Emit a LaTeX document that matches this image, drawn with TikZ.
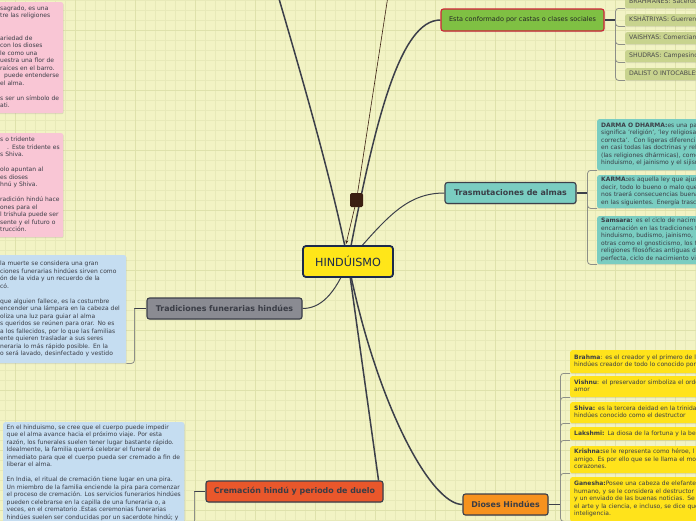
\documentclass[tikz,border=0pt]{standalone}
\usepackage{fontspec}
\setmainfont{DejaVu Sans}
\usetikzlibrary{arrows.meta,backgrounds,shadows}

\definecolor{paper}{HTML}{F2F3C4}
\definecolor{gridfine}{HTML}{E7E9B8}
\definecolor{gridmajor}{HTML}{DEE1AB}
\definecolor{hubyellow}{HTML}{FFE619}
\definecolor{hubnavy}{HTML}{1C2A4C}
\definecolor{castgreen}{HTML}{7FC043}
\definecolor{castred}{HTML}{CF2237}
\definecolor{castleaf}{HTML}{C8D38E}
\definecolor{almateal}{HTML}{7ACDC1}
\definecolor{funegray}{HTML}{8A8B92}
\definecolor{cremorange}{HTML}{E9572B}
\definecolor{diosorange}{HTML}{F7921E}
\definecolor{diosyellow}{HTML}{FFE31B}
\definecolor{notepink}{HTML}{F9C6D5}
\definecolor{noteblue}{HTML}{C5DDF1}
\definecolor{linkdark}{HTML}{3C3F4A}
\definecolor{forkgray}{HTML}{8D8F88}
\definecolor{relbrown}{HTML}{3B1F12}
\definecolor{inkdark}{HTML}{3A3D46}

\newcommand{\notefont}{\fontsize{6}{7.5}\selectfont}

\begin{document}
\begin{tikzpicture}[x=1pt, y=-1pt,
    hub/.style={draw=hubnavy, line width=1.8pt, fill=hubyellow, text=hubnavy, rounded corners=3pt, minimum width=90pt, minimum height=31pt, inner sep=0pt, font=\fontsize{11.2}{13}\selectfont},
    topic/.style={draw=linkdark, line width=1.1pt, rounded corners=2.5pt, text=inkdark, minimum height=21pt, inner sep=0pt, font=\bfseries\fontsize{7.9}{9}\selectfont, drop shadow={shadow xshift=.6pt, shadow yshift=-1pt, opacity=.25}},
    castbox/.style={topic, draw=castred, fill=castgreen, text=black!85, font=\fontsize{6.5}{8}\selectfont, minimum width=163pt, minimum height=22pt},
    leafbase/.style={anchor=north west, rounded corners=2pt, inner xsep=4pt, inner ysep=0pt, align=left, text=inkdark, font=\notefont, execute at begin node=\strut, execute at end node=\strut, drop shadow={shadow xshift=.5pt, shadow yshift=-1pt, opacity=.2}},
    castitem/.style={leafbase, fill=castleaf, text width=100pt, minimum height=12pt, text=black!70, font=\fontsize{6.2}{7.5}\selectfont},
    almaleaf/.style={leafbase, fill=almateal, text width=150pt},
    godleaf/.style={leafbase, fill=diosyellow, text width=150pt},
    pinknote/.style={leafbase, fill=notepink, inner xsep=2pt, text width=61pt},
    bluenote/.style={leafbase, fill=noteblue, inner xsep=2pt, text width=124pt},
    cremnote/.style={leafbase, fill=noteblue, inner xsep=3.5pt, inner ysep=2.3pt},
    relbox/.style={fill=relbrown, rounded corners=1.5pt, minimum width=13pt, minimum height=14pt, inner sep=0pt},
    branch/.style={draw=linkdark, line width=1.5pt},
    twig/.style={draw=linkdark, line width=1pt},
    stub/.style={draw=linkdark, line width=1.3pt},
    fork/.style={draw=forkgray, line width=.8pt, rounded corners=3pt},
    relation/.style={draw=relbrown, line width=.6pt, -{Stealth[length=4pt, width=3pt]}}
]
    \useasboundingbox (0,0) rectangle (696,520);

    % Paper and grid
    \begin{pgfonlayer}{background}
        \fill[paper] (0,0) rectangle (696,520);
        \draw[gridfine, line width=.5pt, step=10pt, xshift=5pt] (-5,0) grid (691,520);
        \draw[gridmajor, line width=.6pt, step=60pt, xshift=15pt, yshift=-30pt] (-15,-30) grid (681,490);
    \end{pgfonlayer}

    % Central topic
    \node[hub] (hind) at (348,261.5) {HINDÚISMO};

    % Main branches
    \node[castbox] (castas) at (522.5,20) {Esta conformado por castas o clases sociales};
    \node[topic, fill=almateal, minimum width=131pt] (almas) at (510.5,193) {Trasmutaciones de almas};
    \node[topic, fill=funegray, minimum width=155pt] (funeral) at (224.5,308.5) {Tradiciones funerarias hindúes};
    \node[topic, fill=cremorange, minimum width=177pt] (crema) at (294.5,491.5) {Cremación hindú y periodo de duelo};
    \node[topic, fill=diosorange, minimum width=85pt] (dioses) at (505.5,504.5) {Dioses Hindúes};
    \node[relbox] (relmark) at (356.5,200) {};

    % Castes
    \node[castitem] (brahmanes) at (625,-4) {BRAHMANES: Sacerdotes};
    \node[castitem] (kshatriyas) at (625,14) {KSHÁTRIYAS: Guerreros};
    \node[castitem] (vaishyas) at (625,32) {VAISHYAS: Comerciantes};
    \node[castitem] (shudras) at (625,50) {SHUDRAS: Campesinos};
    \node[castitem] (dalist) at (625,68) {DALIST O INTOCABLES};

    % Transmigration notes
    \node[almaleaf, minimum height=51pt] (darma) at (597,119) {\textbf{DARMA O DHARMA:}es una palabra\\significa 'religión', 'ley religiosa'\\correcta'.\ \ Con ligeras diferencias\\en casi todas las doctrinas y religiones\\(las religiones dhármicas), como\\hinduismo, el jainismo y el sijismo};
    \node[almaleaf, minimum height=33pt] (karma) at (597,175) {\textbf{KARMA:}es aquella ley que ajusta\\decir, todo lo bueno o malo que\\nos traerá consecuencias buenas\\en las siguientes. Energía trascendente};
    \node[almaleaf, minimum height=48pt] (samsara) at (597,216) {\textbf{Samsara:} es el ciclo de nacimiento\\encarnación en las tradiciones filosóficas\\hinduismo, budismo, jainismo,\\otras como el gnosticismo, los f\\religiones filosóficas antiguas de\\perfecta, ciclo de nacimiento vida};

    % Gods
    \node[godleaf, minimum height=23pt] (brahma) at (570,350) {\textbf{Brahma}: es el creador y el primero de los\\hindúes creador de todo lo conocido por};
    \node[godleaf, minimum height=21pt] (vishnu) at (570,376) {\textbf{Vishnu}: el preservador simboliza el orden\\amor};
    \node[godleaf, minimum height=21pt] (shiva) at (570,402) {\textbf{Shiva:} es la tercera deidad en la trinidad\\hindúes conocido como el destructor};
    \node[godleaf, minimum height=13pt] (lakshmi) at (570,427) {\textbf{Lakshmi:} La diosa de la fortuna y la belleza};
    \node[godleaf, minimum height=27pt] (krishna) at (570,446) {\textbf{Krishna:}se le representa como héroe, l\\amigo. Es por ello que se le llama el mo\\corazones.};
    \node[godleaf, minimum height=44pt] (ganesha) at (570,477) {\textbf{Ganesha:}Posee una cabeza de elefante\\humano, y se le considera el destructor\\y un enviado de las buenas noticias. Se le\\el arte y la ciencia, e incluso, se dice que\\inteligencia.};

    % Notes on the left
    \node[pinknote, minimum height=111pt] (lotonote) at (-2,2) {sagrado, es una\\tre las religiones\\[15pt]ariedad de\\con los dioses\\le como una\\uestra una flor de\\raíces en el barro.\\\hspace*{4pt}puede entenderse\\el alma.\\[7.5pt]s ser un símbolo de\\ati.};
    \node[pinknote, minimum height=104pt] (trishulanote) at (-2,133) {s o tridente\\\hspace*{7pt}. Este tridente es\\s Shiva.\\[7.5pt]olo apuntan al\\es dioses\\hnú y Shiva.\\[7.5pt]radición hindú hace\\ones para el\\l trishula puede ser\\sente y el futuro o\\trucción.};
    \node[bluenote, minimum height=108pt] (funenote) at (-2,255) {la muerte se considera una gran\\ciones funerarias hindúes sirven como\\ón de la vida y un recuerdo de la\\có.\\[7.5pt]que alguien fallece, es la costumbre\\encender una lámpara en la cabeza del\\oliza una luz para guiar al alma\\s queridos se reúnen para orar. No es\\a los fallecidos, por lo que las familias\\ente quieren trasladar a sus seres\\neraria lo más rápido posible. En la\\o será lavado, desinfectado y vestido};
    \node[cremnote] (cremnote) at (3,422) {En el hinduismo, se cree que el cuerpo puede impedir\\que el alma avance hacia el próximo viaje. Por esta\\razón, los funerales suelen tener lugar bastante rápido.\\Idealmente, la familia querrá celebrar el funeral de\\inmediato para que el cuerpo pueda ser cremado a fin de\\liberar el alma.\\[7.5pt]En India, el ritual de cremación tiene lugar en una pira.\\Un miembro de la familia enciende la pira para comenzar\\el proceso de cremación. Los servicios funerarios hindúes\\pueden celebrarse en la capilla de una funeraria o, a\\veces, en el crematorio .Estas ceremonias funerarias\\hindúes suelen ser conducidas por un sacerdote hindú; y};

    % Fork points and free ends
    \coordinate (castfork) at ([xshift=11pt]castas.east);
    \coordinate (almafork) at ([xshift=11pt]almas.east);
    \coordinate (funefork) at ([xshift=-12pt]funeral.west);
    \coordinate (cremfork) at ([xshift=-11pt]crema.west);
    \coordinate (diosfork) at ([xshift=12pt]dioses.east);
    \coordinate (upperlink) at (272,-25);
    \coordinate (reltop) at (392,-30);

    \begin{pgfonlayer}{background}
        % Branches from the centre
        \draw[branch] (hind.center) .. controls (332,180) and (300,70) .. (upperlink);
        \draw[branch] (hind.center) .. controls (375,120) and (400,20) .. (castas.west);
        \draw[twig] (hind.center) .. controls (385,220) and (405,193) .. (almas.west);
        \draw[twig] (hind.center) .. controls (335,295) and (320,308.5) .. (funeral.east);
        \draw[branch] (hind.center) -- ([xshift=-5pt]crema.north east);
        \draw[branch] (hind.center) .. controls (375,400) and (430,504.5) .. (dioses.west);
        \draw[relation] (reltop) -- (relmark.center) -- ([xshift=-2pt, yshift=1pt]hind.north);

        % Castes
        \draw[stub] (castas.east) -- (castfork);
        \draw[fork] (castfork) |- (brahmanes.south west);
        \draw[fork] (castfork) |- (kshatriyas.south west);
        \draw[fork] (castfork) |- (vaishyas.south west);
        \draw[fork] (castfork) |- (shudras.south west);
        \draw[fork] (castfork) |- (dalist.south west);

        % Transmigration
        \draw[stub] (almas.east) -- (almafork);
        \draw[fork] (almafork) |- (darma.south west);
        \draw[fork] (almafork) |- (karma.south west);
        \draw[fork] (almafork) |- (samsara.south west);

        % Funerals
        \draw[stub] (funeral.west) -- (funefork);
        \draw[fork] (funefork) |- (funenote.south east);
        \draw[stub] (crema.west) -- (cremfork);
        \draw[fork] (cremfork) |- (cremnote.south east);

        % Gods
        \draw[stub] (dioses.east) -- (diosfork);
        \draw[fork] (diosfork) |- (brahma.south west);
        \draw[fork] (diosfork) |- (vishnu.south west);
        \draw[fork] (diosfork) |- (shiva.south west);
        \draw[fork] (diosfork) |- (lakshmi.south west);
        \draw[fork] (diosfork) |- (krishna.south west);
        \draw[fork] (diosfork) |- (ganesha.south west);
    \end{pgfonlayer}
\end{tikzpicture}
\end{document}
